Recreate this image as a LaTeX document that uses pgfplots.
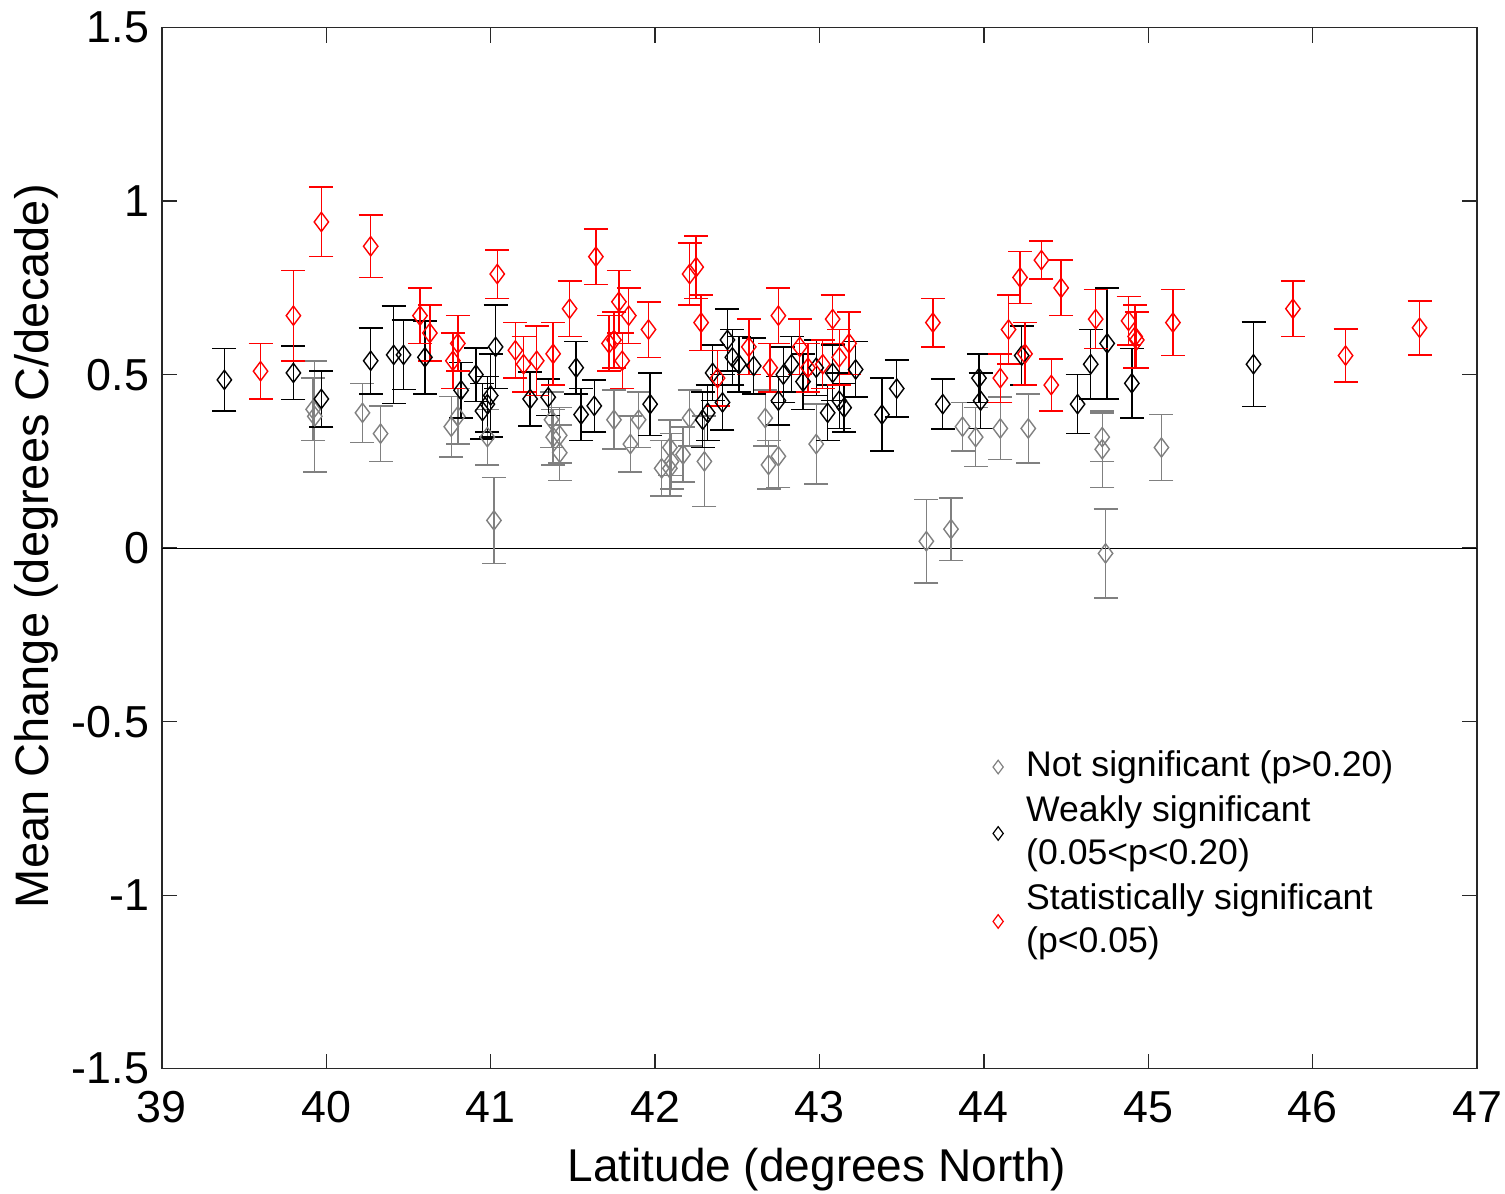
\documentclass[border=0pt]{standalone}
\usepackage{pgfplots}
\pgfplotsset{compat=1.18}
\usepackage{pgfplotstable}
\usepackage{fontspec}
\setmainfont{Liberation Sans}
\definecolor{mgray}{RGB}{128,128,128}
\definecolor{mred}{RGB}{255,0,0}
\definecolor{axgray}{RGB}{40,40,40}

\pgfplotstableread{
x y e
39.92 0.40 0.09
39.93 0.38 0.16
40.22 0.39 0.085
40.33 0.33 0.08
40.76 0.35 0.087
40.80 0.38 0.08
40.98 0.32 0.08
41.02 0.08 0.124
41.37 0.37 0.08
41.38 0.32 0.08
41.42 0.325 0.08
41.42 0.275 0.08
41.75 0.37 0.085
41.85 0.30 0.08
41.90 0.37 0.08
42.04 0.23 0.08
42.09 0.29 0.08
42.10 0.25 0.08
42.09 0.23 0.08
42.17 0.27 0.08
42.21 0.375 0.08
42.30 0.25 0.13
42.67 0.375 0.08
42.69 0.24 0.07
42.75 0.265 0.09
42.98 0.30 0.115
43.65 0.02 0.12
43.80 0.055 0.09
43.87 0.35 0.07
43.95 0.32 0.085
44.10 0.345 0.09
44.27 0.345 0.10
44.72 0.32 0.07
44.72 0.285 0.11
44.74 -0.015 0.128
45.08 0.29 0.095
}\graydata

\pgfplotstableread{
x y e
39.38 0.485 0.09
39.80 0.505 0.077
39.97 0.43 0.08
40.27 0.54 0.095
40.41 0.557 0.14
40.47 0.557 0.10
40.60 0.55 0.105
40.82 0.455 0.08
40.91 0.50 0.077
40.95 0.395 0.08
40.98 0.415 0.08
41.00 0.44 0.12
41.03 0.58 0.12
41.24 0.43 0.078
41.35 0.435 0.053
41.52 0.52 0.075
41.55 0.385 0.075
41.63 0.41 0.075
41.97 0.415 0.09
42.29 0.37 0.08
42.32 0.39 0.08
42.35 0.505 0.08
42.41 0.42 0.08
42.44 0.60 0.09
42.47 0.55 0.08
42.51 0.53 0.08
42.60 0.525 0.08
42.75 0.425 0.07
42.78 0.50 0.08
42.83 0.53 0.08
42.90 0.48 0.08
42.98 0.52 0.08
43.05 0.39 0.08
43.08 0.505 0.08
43.12 0.425 0.08
43.15 0.405 0.07
43.22 0.515 0.08
43.38 0.385 0.105
43.47 0.46 0.082
43.75 0.415 0.072
43.97 0.49 0.07
43.98 0.425 0.08
44.23 0.555 0.085
44.57 0.415 0.085
44.65 0.53 0.10
44.75 0.59 0.16
44.90 0.475 0.10
45.64 0.53 0.122
}\blackdata

\pgfplotstableread{
x y e
39.60 0.51 0.08
39.80 0.67 0.13
39.97 0.94 0.10
40.27 0.87 0.09
40.57 0.67 0.08
40.63 0.62 0.08
40.77 0.54 0.08
40.80 0.59 0.08
41.04 0.79 0.07
41.15 0.57 0.08
41.20 0.53 0.08
41.28 0.54 0.10
41.38 0.56 0.09
41.48 0.69 0.08
41.64 0.84 0.08
41.72 0.59 0.08
41.75 0.60 0.08
41.78 0.71 0.09
41.80 0.54 0.08
41.84 0.67 0.08
41.96 0.63 0.08
42.21 0.79 0.09
42.25 0.81 0.09
42.28 0.65 0.08
42.38 0.49 0.08
42.57 0.58 0.08
42.70 0.52 0.07
42.75 0.67 0.08
42.88 0.58 0.08
42.93 0.52 0.07
43.02 0.53 0.07
43.08 0.66 0.07
43.12 0.55 0.08
43.18 0.59 0.09
43.69 0.65 0.07
44.10 0.49 0.07
44.15 0.63 0.10
44.22 0.78 0.075
44.25 0.56 0.09
44.35 0.83 0.055
44.41 0.47 0.075
44.47 0.75 0.08
44.68 0.66 0.085
44.88 0.655 0.07
44.92 0.61 0.09
44.93 0.60 0.08
45.15 0.65 0.095
45.88 0.69 0.08
46.20 0.555 0.077
46.65 0.635 0.078
}\reddata

\begin{document}
\begin{tikzpicture}
\begin{axis}[
  scale only axis,
  width=328.75pt, height=260.25pt,
  xmin=39, xmax=47, ymin=-1.5, ymax=1.5,
  xtick={39,40,...,47},
  ytick={-1.5,-1,-0.5,0,0.5,1,1.5},
  yticklabels={-1.5,-1,-0.5,0,0.5,1,1.5},
  /pgf/number format/assume math mode=true,
  tick align=inside,
  major tick length=3.75pt,
  axis line style={axgray, line width=0.35pt},
  every tick/.style={axgray, line width=0.35pt},
  tick label style={font=\fontsize{11.2}{13}\selectfont},
  xticklabel style={inner xsep=0.75pt, inner ysep=0pt, anchor=north, yshift=-5.5pt},
  yticklabel style={inner xsep=0pt, inner ysep=3pt, anchor=east, xshift=-3pt},
  xlabel={Latitude (degrees North)},
  ylabel={Mean Change (degrees C/decade)},
  xlabel style={font=\fontsize{11.5}{13}\selectfont, inner sep=0.5pt,
    at={(axis description cs:0.498,-0.097)}, anchor=center},
  ylabel style={font=\fontsize{11.75}{13}\selectfont, inner sep=3.5pt,
    at={(axis description cs:-0.0958,0.502)}, anchor=center},
  legend style={draw=none, fill=none, at={(0.610,0.3212)}, anchor=north west,
    font=\fontsize{8.9}{10.8}\selectfont, nodes={align=left}, row sep=-0.75pt},
  legend cell align=left,
  legend image code/.code={\path (0cm,0cm) (0.35cm,0cm);\draw[mark size=1.7pt,line width=0.3pt] plot coordinates {(0.18cm,0cm)};},
  every axis plot/.append style={line width=0.35pt},
]
\addplot[black, line width=0.3pt, forget plot] coordinates {(39,0) (47,0)};

\addplot[only marks, mgray, mark=diamond, mark size=2.4pt,
  error bars/.cd, y dir=both, y explicit,
  error bar style={mgray, line width=0.35pt},
  error mark options={mgray, rotate=90, mark size=3pt}]
  table[x=x, y=y, y error=e] {\graydata};
\addlegendentry{Not significant (p>0.20)}

\addplot[only marks, black, mark=diamond, mark size=2.4pt,
  error bars/.cd, y dir=both, y explicit,
  error bar style={black, line width=0.35pt},
  error mark options={black, rotate=90, mark size=3pt}]
  table[x=x, y=y, y error=e] {\blackdata};
\addlegendentry{Weakly significant\\(0.05<p<0.20)}

\addplot[only marks, mred, mark=diamond, mark size=2.4pt,
  error bars/.cd, y dir=both, y explicit,
  error bar style={mred, line width=0.35pt},
  error mark options={mred, rotate=90, mark size=3pt}]
  table[x=x, y=y, y error=e] {\reddata};
\addlegendentry{Statistically significant\\(p<0.05)}
\end{axis}
\end{tikzpicture}
\end{document}
